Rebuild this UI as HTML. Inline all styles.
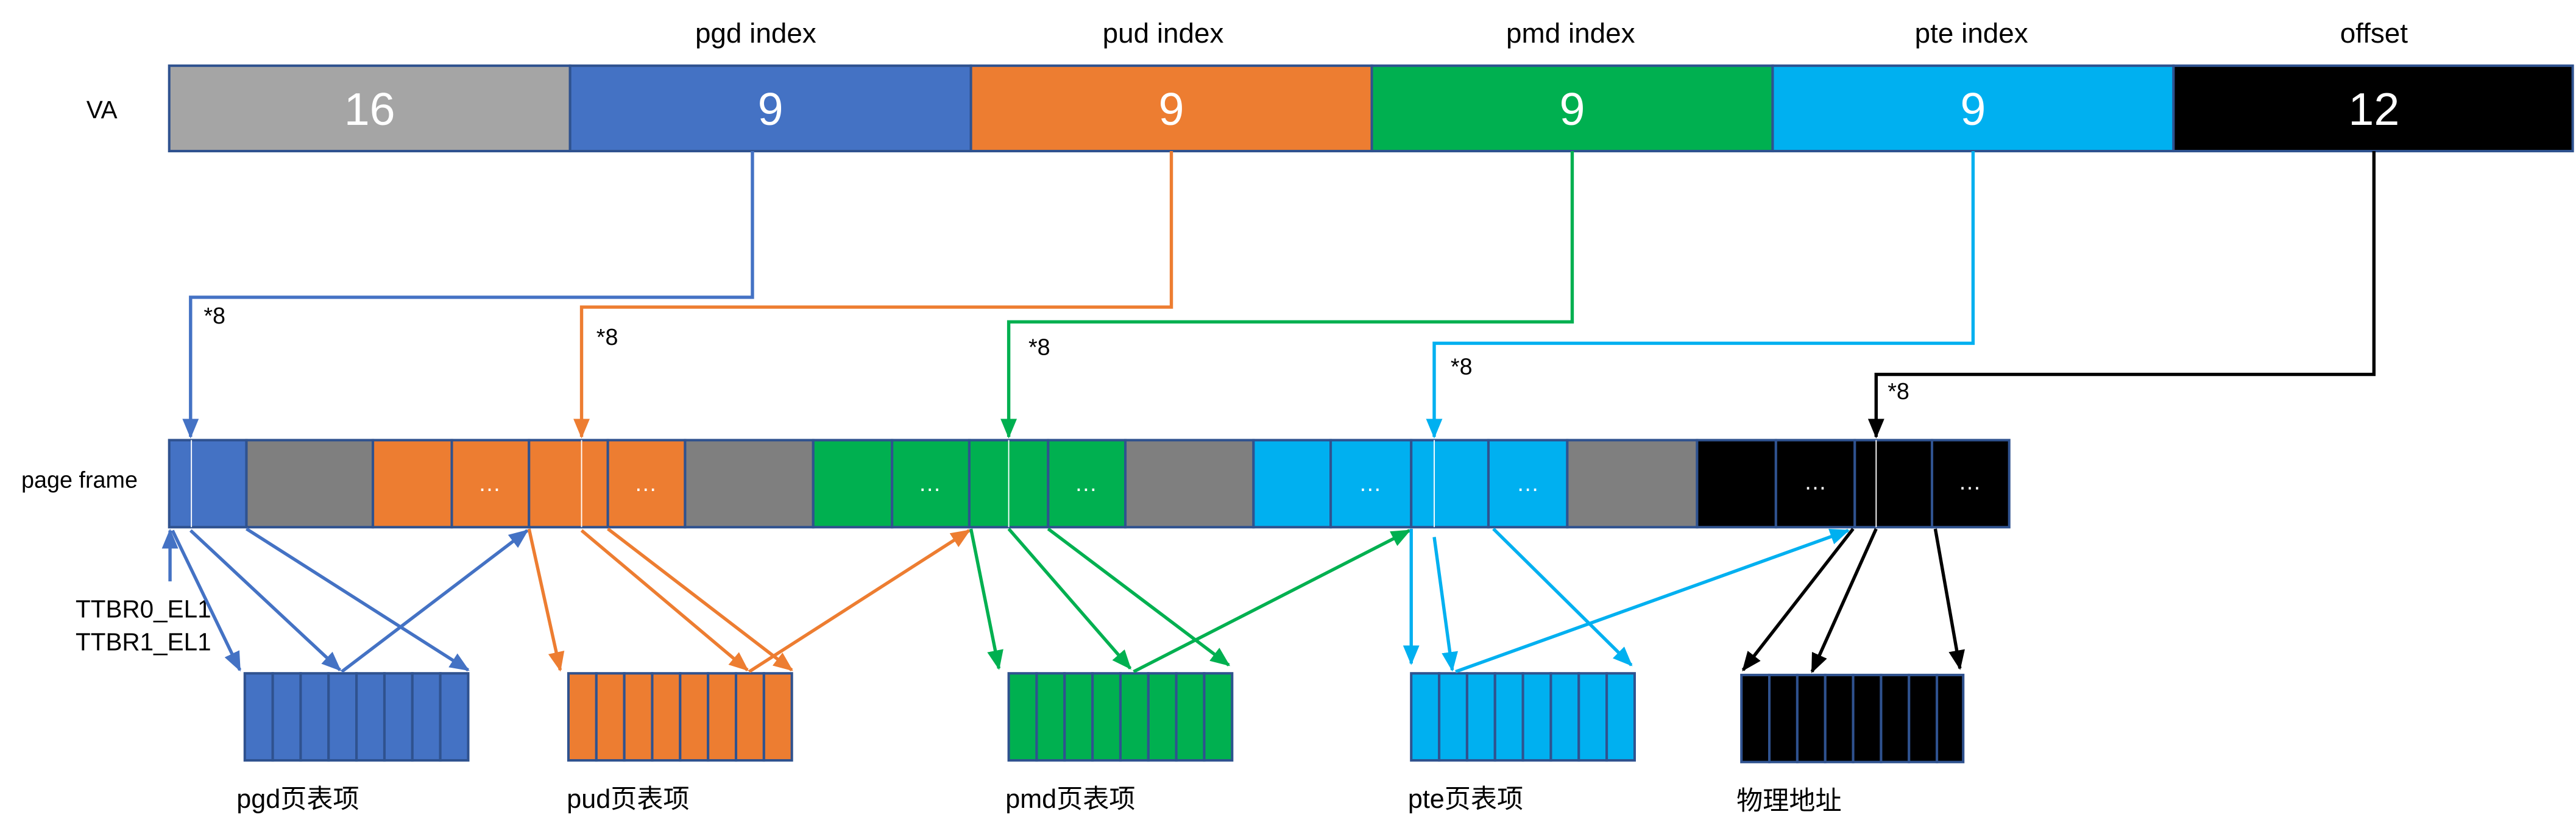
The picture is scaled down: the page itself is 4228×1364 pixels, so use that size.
<!DOCTYPE html>
<html><head><meta charset="utf-8"><style>
html,body{margin:0;padding:0;background:#fff;}
svg{display:block;}
text{font-family:"Liberation Sans","Noto Sans CJK SC",sans-serif;}
</style></head><body>
<svg width="4228" height="1364" viewBox="0 0 1568 506" preserveAspectRatio="none" xmlns="http://www.w3.org/2000/svg">
<defs>
<marker id="ab" markerUnits="userSpaceOnUse" markerWidth="12" markerHeight="10" refX="11" refY="5" orient="auto"><path d="M0,0 L12,5 L0,10 Z" fill="#4472c4"/></marker>
<marker id="ao" markerUnits="userSpaceOnUse" markerWidth="12" markerHeight="10" refX="11" refY="5" orient="auto"><path d="M0,0 L12,5 L0,10 Z" fill="#ed7d31"/></marker>
<marker id="ag" markerUnits="userSpaceOnUse" markerWidth="12" markerHeight="10" refX="11" refY="5" orient="auto"><path d="M0,0 L12,5 L0,10 Z" fill="#00b050"/></marker>
<marker id="ac" markerUnits="userSpaceOnUse" markerWidth="12" markerHeight="10" refX="11" refY="5" orient="auto"><path d="M0,0 L12,5 L0,10 Z" fill="#00b0f0"/></marker>
<marker id="ak" markerUnits="userSpaceOnUse" markerWidth="12" markerHeight="10" refX="11" refY="5" orient="auto"><path d="M0,0 L12,5 L0,10 Z" fill="#000"/></marker>
</defs>

<!-- top labels -->
<g font-size="17" fill="#000" text-anchor="middle">
<text x="460" y="26">pgd index</text>
<text x="708" y="26">pud index</text>
<text x="956" y="26">pmd index</text>
<text x="1200" y="26">pte index</text>
<text x="1445" y="26">offset</text>
</g>
<text x="62" y="72" font-size="15" text-anchor="middle">VA</text>

<!-- VA bar -->
<g stroke="#2f528f" stroke-width="1.5">
<rect x="103" y="40" width="244" height="52" fill="#a5a5a5"/>
<rect x="347" y="40" width="244" height="52" fill="#4472c4"/>
<rect x="591" y="40" width="244" height="52" fill="#ed7d31"/>
<rect x="835" y="40" width="244" height="52" fill="#00b050"/>
<rect x="1079" y="40" width="244" height="52" fill="#00b0f0"/>
<rect x="1323" y="40" width="243" height="52" fill="#000"/>
</g>
<g font-size="28" fill="#fff" text-anchor="middle">
<text x="225" y="76">16</text>
<text x="469" y="76">9</text>
<text x="713" y="76">9</text>
<text x="957" y="76">9</text>
<text x="1201" y="76">9</text>
<text x="1445" y="76">12</text>
</g>

<!-- VA down connectors -->
<g fill="none" stroke-width="2">
<path d="M458,92 V181 H116 V266" stroke="#4472c4" marker-end="url(#ab)"/>
<path d="M713,92 V187 H354 V266" stroke="#ed7d31" marker-end="url(#ao)"/>
<path d="M957,92 V196 H614 V266" stroke="#00b050" marker-end="url(#ag)"/>
<path d="M1201,92 V209 H873 V266" stroke="#00b0f0" marker-end="url(#ac)"/>
<path d="M1445,92 V228 H1142 V266" stroke="#000" marker-end="url(#ak)"/>
</g>
<g font-size="14" fill="#000">
<text x="124" y="197">*8</text>
<text x="363" y="210">*8</text>
<text x="626" y="216">*8</text>
<text x="883" y="228">*8</text>
<text x="1149" y="243">*8</text>
</g>

<!-- page frame -->
<text x="13" y="297" font-size="14">page frame</text>
<g stroke="#2f528f" stroke-width="1.5">
<rect x="103" y="268" width="47" height="53" fill="#4472c4"/>
<rect x="150" y="268" width="77" height="53" fill="#7f7f7f"/>
<rect x="227" y="268" width="48" height="53" fill="#ed7d31"/>
<rect x="275" y="268" width="47" height="53" fill="#ed7d31"/>
<rect x="322" y="268" width="48" height="53" fill="#ed7d31"/>
<rect x="370" y="268" width="47" height="53" fill="#ed7d31"/>
<rect x="417" y="268" width="78" height="53" fill="#7f7f7f"/>
<rect x="495" y="268" width="48" height="53" fill="#00b050"/>
<rect x="543" y="268" width="47" height="53" fill="#00b050"/>
<rect x="590" y="268" width="48" height="53" fill="#00b050"/>
<rect x="638" y="268" width="47" height="53" fill="#00b050"/>
<rect x="685" y="268" width="78" height="53" fill="#7f7f7f"/>
<rect x="763" y="268" width="47" height="53" fill="#00b0f0"/>
<rect x="810" y="268" width="49" height="53" fill="#00b0f0"/>
<rect x="859" y="268" width="47" height="53" fill="#00b0f0"/>
<rect x="906" y="268" width="48" height="53" fill="#00b0f0"/>
<rect x="954" y="268" width="79" height="53" fill="#7f7f7f"/>
<rect x="1033" y="268" width="48" height="53" fill="#000"/>
<rect x="1081" y="268" width="48" height="53" fill="#000"/>
<rect x="1129" y="268" width="47" height="53" fill="#000"/>
<rect x="1176" y="268" width="47" height="53" fill="#000"/>
</g>
<g font-size="14" fill="#fff" text-anchor="middle">
<text x="298" y="299">…</text>
<text x="393" y="299">…</text>
<text x="566" y="299">…</text>
<text x="661" y="299">…</text>
<text x="834" y="299">…</text>
<text x="930" y="299">…</text>
<text x="1105" y="298">…</text>
<text x="1199" y="298">…</text>
</g>
<g stroke="#fff" stroke-width="0.7">
<line x1="116.5" y1="268" x2="116.5" y2="321"/>
<line x1="354" y1="268" x2="354" y2="321"/>
<line x1="614" y1="268" x2="614" y2="321"/>
<line x1="873" y1="268" x2="873" y2="321"/>
<line x1="1142" y1="268" x2="1142" y2="321"/>
</g>

<!-- lower tables -->
<g stroke="#2f528f" stroke-width="1.5">
<g fill="#4472c4">
<rect x="149" y="410" width="17" height="53"/><rect x="166" y="410" width="17" height="53"/><rect x="183" y="410" width="17" height="53"/><rect x="200" y="410" width="17" height="53"/><rect x="217" y="410" width="17" height="53"/><rect x="234" y="410" width="17" height="53"/><rect x="251" y="410" width="17" height="53"/><rect x="268" y="410" width="17" height="53"/>
</g>
<g fill="#ed7d31">
<rect x="346" y="410" width="17" height="53"/><rect x="363" y="410" width="17" height="53"/><rect x="380" y="410" width="17" height="53"/><rect x="397" y="410" width="17" height="53"/><rect x="414" y="410" width="17" height="53"/><rect x="431" y="410" width="17" height="53"/><rect x="448" y="410" width="17" height="53"/><rect x="465" y="410" width="17" height="53"/>
</g>
<g fill="#00b050">
<rect x="614" y="410" width="17" height="53"/><rect x="631" y="410" width="17" height="53"/><rect x="648" y="410" width="17" height="53"/><rect x="665" y="410" width="17" height="53"/><rect x="682" y="410" width="17" height="53"/><rect x="699" y="410" width="17" height="53"/><rect x="716" y="410" width="17" height="53"/><rect x="733" y="410" width="17" height="53"/>
</g>
<g fill="#00b0f0">
<rect x="859" y="410" width="17" height="53"/><rect x="876" y="410" width="17" height="53"/><rect x="893" y="410" width="17" height="53"/><rect x="910" y="410" width="17" height="53"/><rect x="927" y="410" width="17" height="53"/><rect x="944" y="410" width="17" height="53"/><rect x="961" y="410" width="17" height="53"/><rect x="978" y="410" width="17" height="53"/>
</g>
<g fill="#000">
<rect x="1060" y="411" width="17" height="53"/><rect x="1077" y="411" width="17" height="53"/><rect x="1094" y="411" width="17" height="53"/><rect x="1111" y="411" width="17" height="53"/><rect x="1128" y="411" width="17" height="53"/><rect x="1145" y="411" width="17" height="53"/><rect x="1162" y="411" width="17" height="53"/><rect x="1179" y="411" width="16" height="53"/>
</g>
</g>
<g font-size="16" fill="#000">
<text x="144" y="492">pgd页表项</text>
<text x="345" y="492">pud页表项</text>
<text x="612" y="492">pmd页表项</text>
<text x="857" y="492">pte页表项</text>
<text x="1057" y="493">物理地址</text>
</g>

<!-- TTBR -->
<g font-size="15" fill="#000">
<text x="46" y="376">TTBR0_EL1</text>
<text x="46" y="396">TTBR1_EL1</text>
</g>

<!-- diagonal arrows -->
<g stroke-width="2" fill="none">
<line x1="103.5" y1="354" x2="103.5" y2="323" stroke="#4472c4" marker-end="url(#ab)"/>
<line x1="105" y1="323" x2="146" y2="408" stroke="#4472c4" marker-end="url(#ab)"/>
<line x1="116" y1="323" x2="207" y2="408" stroke="#4472c4" marker-end="url(#ab)"/>
<line x1="150" y1="322" x2="285" y2="408" stroke="#4472c4" marker-end="url(#ab)"/>
<line x1="208" y1="409" x2="321" y2="323" stroke="#4472c4" marker-end="url(#ab)"/>

<line x1="322" y1="322" x2="341" y2="408" stroke="#ed7d31" marker-end="url(#ao)"/>
<line x1="354" y1="323" x2="455" y2="408" stroke="#ed7d31" marker-end="url(#ao)"/>
<line x1="370" y1="322" x2="482" y2="408" stroke="#ed7d31" marker-end="url(#ao)"/>
<line x1="456" y1="409" x2="590" y2="323" stroke="#ed7d31" marker-end="url(#ao)"/>

<line x1="591" y1="322" x2="608" y2="407" stroke="#00b050" marker-end="url(#ag)"/>
<line x1="614" y1="322" x2="688" y2="407" stroke="#00b050" marker-end="url(#ag)"/>
<line x1="638" y1="322" x2="748" y2="405" stroke="#00b050" marker-end="url(#ag)"/>
<line x1="690" y1="409" x2="858" y2="323" stroke="#00b050" marker-end="url(#ag)"/>

<line x1="859" y1="322" x2="859" y2="404" stroke="#00b0f0" marker-end="url(#ac)"/>
<line x1="873" y1="327" x2="884" y2="408" stroke="#00b0f0" marker-end="url(#ac)"/>
<line x1="909" y1="322" x2="993" y2="405" stroke="#00b0f0" marker-end="url(#ac)"/>
<line x1="886" y1="409" x2="1125" y2="323" stroke="#00b0f0" marker-end="url(#ac)"/>

<line x1="1128" y1="322" x2="1061" y2="408" stroke="#000" marker-end="url(#ak)"/>
<line x1="1142" y1="322" x2="1103" y2="409" stroke="#000" marker-end="url(#ak)"/>
<line x1="1178" y1="322" x2="1193" y2="407" stroke="#000" marker-end="url(#ak)"/>
</g>
</svg>
</body></html>
